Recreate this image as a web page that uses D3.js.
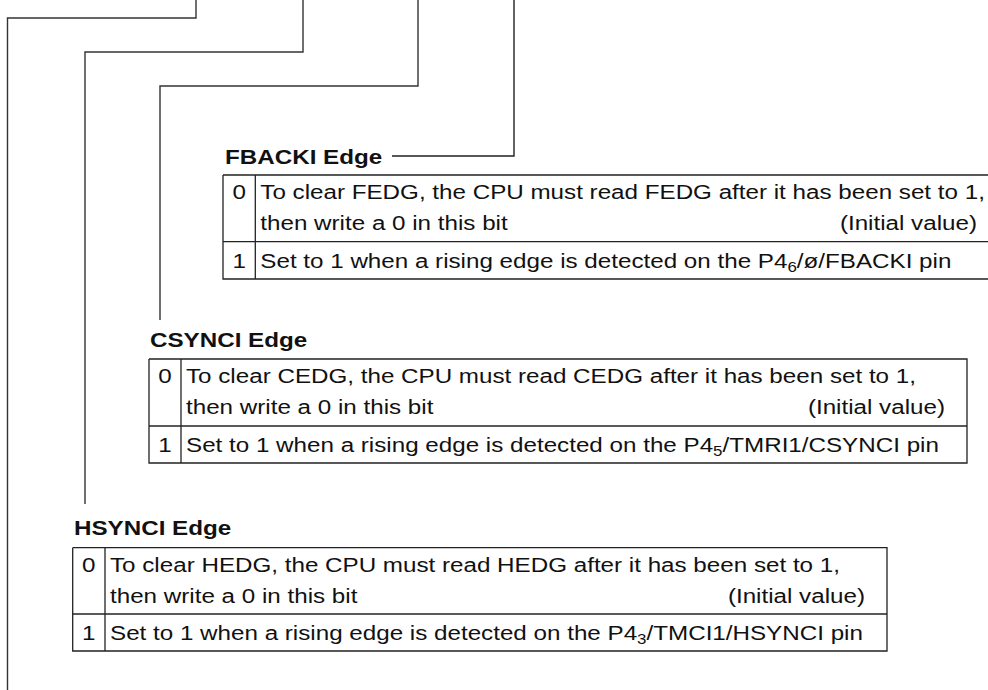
<!DOCTYPE html>
<html>
<head>
<meta charset="utf-8">
<script src="https://cdn.jsdelivr.net/npm/d3@7"></script>
<style>
  html, body { margin: 0; padding: 0; background: #fff; }
  svg { display: block; }
</style>
</head>
<body>
<div id="chart"></div>
<script>
// ---------- data ----------
const headings = ["FBACKI Edge", "CSYNCI Edge", "HSYNCI Edge"];
const bitValues = ["0", "1"];
const clearLine1 = [
  "To clear FEDG, the CPU must read FEDG after it has been set to 1,",
  "To clear CEDG, the CPU must read CEDG after it has been set to 1,",
  "To clear HEDG, the CPU must read HEDG after it has been set to 1,"
];
const clearLine2 = ["then write a 0 in this bit", "then write a 0 in this bit", "then write a 0 in this bit"];
const initialNote = ["(Initial value)", "(Initial value)", "(Initial value)"];
const setPrefix = [
  "Set to 1 when a rising edge is detected on the P4",
  "Set to 1 when a rising edge is detected on the P4",
  "Set to 1 when a rising edge is detected on the P4"
];
const pinSubscripts = ["6", "5", "3"];
const pinSuffix = ["/ø/FBACKI pin", "/TMRI1/CSYNCI pin", "/TMCI1/HSYNCI pin"];

// ---------- layout (positions, not data) ----------
const W = 988, H = 690;
const SX = 1.21;         // horizontal stretch of the glyphs in the reference
const FS = 20;
const tables = [
  { left: 223, sep: 255.3, right: 999, top: 175, mid: 241.7, bottom: 279, hx: 225, hy: 164 },
  { left: 149, sep: 181, right: 967, top: 359, mid: 426, bottom: 463, hx: 150, hy: 347 },
  { left: 72.7, sep: 105, right: 887, top: 547.7, mid: 614, bottom: 651, hx: 74, hy: 535 }
];
// connector lines: [topX, elbowY, leftX, endY]
const connectors = [
  [196, 18, 7.5, 690],
  [303, 52, 85, 504],
  [418, 86, 160, 320]
];
const fbackiLead = { x1: 392, x2: 514, y: 156 };

const svg = d3.select("#chart").append("svg")
  .attr("width", W).attr("height", H)
  .style("font-family", "'Liberation Sans', Arial, Helvetica, sans-serif");

const lineColor = "#333";
const lineGen = d3.line();

connectors.forEach(c => {
  svg.append("path")
    .attr("d", lineGen([[c[0], 0], [c[0], c[1]], [c[2], c[1]], [c[2], c[3]]]))
    .attr("fill", "none").attr("stroke", lineColor).attr("stroke-width", 1.4);
});
svg.append("path")
  .attr("d", lineGen([[fbackiLead.x2, 0], [fbackiLead.x2, fbackiLead.y], [fbackiLead.x1, fbackiLead.y]]))
  .attr("fill", "none").attr("stroke", "#222").attr("stroke-width", 1.4);

function txt(g, x, y, s, opts = {}) {
  return g.append("text")
    .attr("transform", `translate(${x},${y}) scale(${SX},1)`)
    .attr("font-size", opts.size || FS)
    .attr("font-weight", opts.bold ? "bold" : "normal")
    .attr("text-anchor", opts.anchor || "start")
    .attr("fill", "#111")
    .text(s);
}

tables.forEach((t, i) => {
  const g = svg.append("g");
  txt(g, t.hx, t.hy, headings[i], { bold: true });
  const stroke = "#222";
  g.append("path")
    .attr("d", lineGen([[t.left, t.top], [t.right, t.top], [t.right, t.bottom], [t.left, t.bottom], [t.left, t.top]]))
    .attr("fill", "none").attr("stroke", stroke).attr("stroke-width", 1.3);
  g.append("line").attr("x1", t.left).attr("x2", t.right).attr("y1", t.mid).attr("y2", t.mid)
    .attr("stroke", stroke).attr("stroke-width", 1.3);
  g.append("line").attr("x1", t.sep).attr("x2", t.sep).attr("y1", t.top).attr("y2", t.bottom)
    .attr("stroke", stroke).attr("stroke-width", 1.3);

  const cx = (t.left + t.sep) / 2;
  const tx = t.sep + 5;
  const b1 = t.top + 24, b2 = t.top + 55, b3 = t.mid + 26;
  txt(g, cx, b1, bitValues[0], { anchor: "middle" });
  txt(g, tx, b1, clearLine1[i]);
  txt(g, tx, b2, clearLine2[i]);
  txt(g, t.right - 22, b2, initialNote[i], { anchor: "end" });
  txt(g, cx, b3, bitValues[1], { anchor: "middle" });
  const s = txt(g, tx, b3, setPrefix[i]);
  s.append("tspan").attr("font-size", FS * 0.7).attr("dy", 4).text(pinSubscripts[i]);
  s.append("tspan").attr("dy", -4).text(pinSuffix[i]);
});
</script>
</body>
</html>
